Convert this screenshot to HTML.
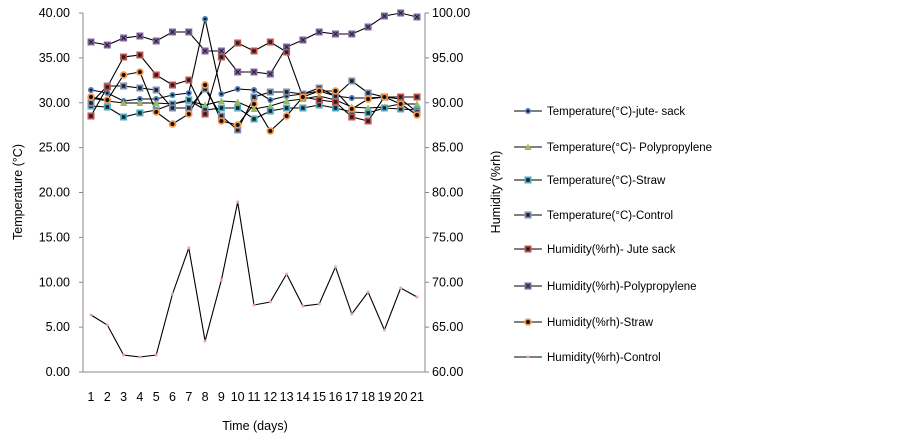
<!DOCTYPE html>
<html><head><meta charset="utf-8"><style>
html,body{margin:0;padding:0;background:#fff;width:903px;height:434px;overflow:hidden}
svg text{font-family:"Liberation Sans",sans-serif;fill:#000}
</style></head><body>
<svg id="s" width="903" height="434" xmlns="http://www.w3.org/2000/svg">
<line x1="83" y1="13" x2="83" y2="372" stroke="#888"/>
<line x1="425" y1="13" x2="425" y2="372" stroke="#888"/>
<line x1="83" y1="372" x2="425" y2="372" stroke="#888"/>
<g font-size="12.5" text-anchor="end" id="ly"></g>
<g font-size="12.5" id="ry"></g>
<g font-size="12.5" text-anchor="middle" id="xl"></g>
<text x="255" y="430" font-size="12.5" text-anchor="middle">Time (days)</text>
<text transform="translate(22,192) rotate(-90)" font-size="12.5" text-anchor="middle">Temperature (°C)</text>
<text transform="translate(500,192) rotate(-90)" font-size="12.5" text-anchor="middle">Humidity (%rh)</text>
<g id="ser"></g>
<g id="leg" font-size="11.5"></g>
</svg>
<script>
var NS="http://www.w3.org/2000/svg";
function el(p,t,a,txt){var e=document.createElementNS(NS,t);for(var k in a)e.setAttribute(k,a[k]);if(txt!=null)e.textContent=txt;document.getElementById(p).appendChild(e);return e;}
for(var i=0;i<=8;i++){var y=372-i*44.875;
el("ly","text",{x:70,y:y+4},(i*5).toFixed(2));
el("ry","text",{x:432,y:y+4},(60+i*5).toFixed(2));
el("ly","line",{x1:79,x2:83,y1:y,y2:y,stroke:"#888"});
el("ry","line",{x1:425,x2:429,y1:y,y2:y,stroke:"#888"});}
function X(d){return 91+16.3*(d-1);}
for(var d=1;d<=21;d++)el("xl","text",{x:X(d),y:401},d);
var S=[
{c:"#4a7fc1",m:"d",y:[90,93,101,99,99,95,93,19,94,89,90,100,96,94,91,96,98,98,97,97,97]},
{c:"#9bbb59",m:"t",y:[98,101,103,103,103,104,101,105,101,102,109,106,101,99,96,100,107,108,107,104,104]},
{c:"#4bacc6",m:"s",y:[106,107,117,113,110,104,100,110,108,108,119,111,108,108,105,108,112,113,108,109,110]},
{c:"#7f8fb0",m:"s",y:[103,86,86,88,90,108,108,89,116,130,97,92,92,94,88,96,81,93,97,99,112]},
{c:"#c0504d",m:"s",y:[116,87,57,55,75,85,80,114,57,43,51,42,52,97,100,102,117,121,97,97,97]},
{c:"#8064a2",m:"x",y:[42,45,38,36,41,32,32,51,51,72,72,74,47,40,32,34,34,27,16,13,17]},
{c:"#f79646",m:"c",y:[97,100,75,72,112,124,114,85,121,125,104,131,116,97,91,91,109,99,97,104,115]},
{c:"#e6a0c4",m:"p",y:[315,325,355,357,355,294,248,341,280,202,305,302,274,306,304,267,314,292,330,288,297]}];
function mark(p,s,x,y){
if(s.m=="d"){el(p,"circle",{cx:x,cy:y,r:3,fill:s.c});el(p,"circle",{cx:x,cy:y,r:1.3,fill:"#111"});}
else if(s.m=="t"){el(p,"polygon",{points:(x-3.5)+","+(y+3)+" "+(x+3.5)+","+(y+3)+" "+x+","+(y-3.5),fill:s.c});}
else if(s.m=="s"){el(p,"rect",{x:x-3.5,y:y-3.5,width:7,height:7,fill:s.c});el(p,"rect",{x:x-1.8,y:y-1.8,width:3.6,height:3.6,fill:"#222"});}
else if(s.m=="x"){el(p,"rect",{x:x-3.5,y:y-3.5,width:7,height:7,fill:s.c});el(p,"path",{d:"M"+(x-2)+" "+(y-2)+"L"+(x+2)+" "+(y+2)+"M"+(x+2)+" "+(y-2)+"L"+(x-2)+" "+(y+2),stroke:"#222","stroke-width":1});}
else if(s.m=="c"){el(p,"circle",{cx:x,cy:y,r:3.8,fill:s.c});el(p,"circle",{cx:x,cy:y,r:2,fill:"#111"});}
else {el(p,"circle",{cx:x,cy:y,r:1.5,fill:s.c});}
}
S.forEach(function(s){var pts=s.y.map(function(y,i){return X(i+1)+","+y}).join(" ");
el("ser","polyline",{points:pts,fill:"none",stroke:"#000","stroke-width":1.1});});
S.forEach(function(s){s.y.forEach(function(y,i){mark("ser",s,X(i+1),y);});});
var L=["Temperature(°C)-jute- sack","Temperature(°C)- Polypropylene","Temperature(°C)-Straw","Temperature(°C)-Control","Humidity(%rh)- Jute sack","Humidity(%rh)-Polypropylene","Humidity(%rh)-Straw","Humidity(%rh)-Control"];
var LY=[111,147,180,215,249,286,322,357];
L.forEach(function(t,i){var y=LY[i];el("leg","line",{x1:514,x2:542,y1:y,y2:y,stroke:"#000","stroke-width":1.1});mark("leg",S[i],528,y);el("leg","text",{x:547,y:y+4},t);});
</script>
</body></html>
